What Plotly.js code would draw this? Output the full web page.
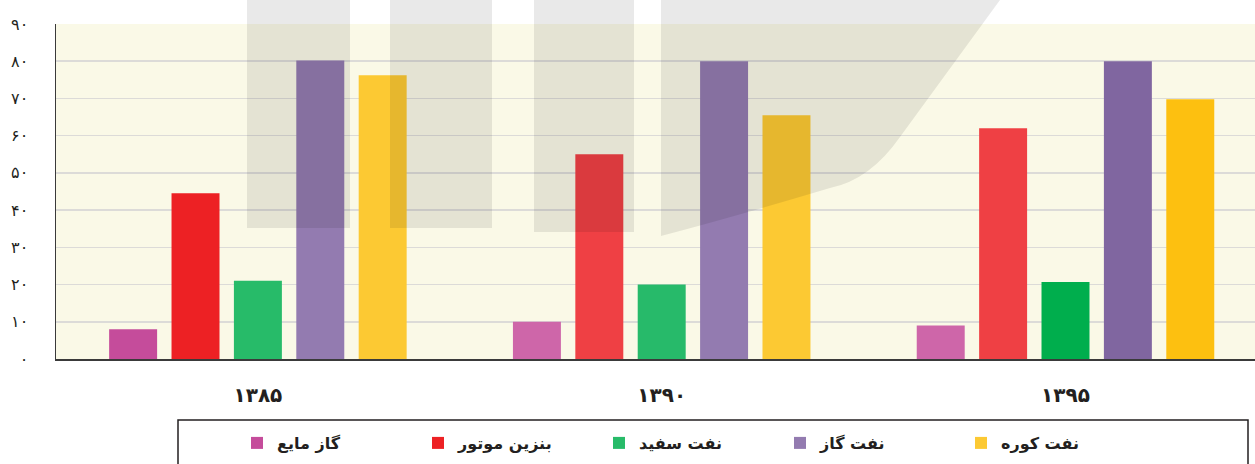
<!DOCTYPE html>
<html>
<head>
<meta charset="utf-8">
<script src="https://cdn.plot.ly/plotly-3.0.1.min.js"></script>
<style>html,body{margin:0;padding:0;background:#fff;overflow:hidden}#chart{width:1255px;height:464px}</style>
</head>
<body>
<div id="chart"></div>
<script>
// ---- data ----
const years = ['۱۳۸۵', '۱۳۹۰', '۱۳۹۵'];
const seriesNames = ['گاز مایع', 'بنزین موتور', 'نفت سفید', 'نفت گاز', 'نفت کوره'];
const lpg        = [8, 10, 9];
const gasoline   = [44.5, 55, 62];
const kerosene   = [21, 20, 20.7];
const gasoil     = [80.2, 80, 80];
const fuelOil    = [76.2, 65.5, 69.8];
const yTickVals  = [0, 10, 20, 30, 40, 50, 60, 70, 80, 90];
const yTickText  = ['۰', '۱۰', '۲۰', '۳۰', '۴۰', '۵۰', '۶۰', '۷۰', '۸۰', '۹۰'];

// ---- styles ----
const seriesColors = [
  ['#C54C9B', '#CE66A9', '#CE66A9'],
  ['#ED2124', '#EF4044', '#EF4044'],
  ['#27BB69', '#27BA6A', '#00AE4D'],
  ['#937BB0', '#937BB0', '#8066A0'],
  ['#FCC933', '#FCC933', '#FDC010']
];
const seriesValues = [lpg, gasoline, kerosene, gasoil, fuelOil];
const FONT = '"DejaVu Sans", "Noto Sans", sans-serif';

const W = 1255, H = 464, ML = 56, MR = 0, MT = 24, MB = 105;
const PW = W - ML - MR, PH = H - MT - MB;
const px = x => (x - ML) / PW;
const py = y => (H - MB - y) / PH;

const traces = seriesNames.map((n, i) => ({
  type: 'bar',
  name: n,
  x: years,
  y: seriesValues[i],
  marker: {color: seriesColors[i], line: {width: 0}},
  hoverinfo: 'x+y+name'
}));

// watermark-like translucent blocks (decoration)
const wm = 'rgba(0,0,0,0.085)';
const shapes = [
  {type: 'rect', xref: 'paper', yref: 'paper', x0: px(247), x1: px(350), y0: py(228), y1: py(0), fillcolor: wm, line: {width: 0}, layer: 'above'},
  {type: 'rect', xref: 'paper', yref: 'paper', x0: px(390), x1: px(492), y0: py(228), y1: py(0), fillcolor: wm, line: {width: 0}, layer: 'above'},
  {type: 'rect', xref: 'paper', yref: 'paper', x0: px(534), x1: px(634), y0: py(232), y1: py(0), fillcolor: wm, line: {width: 0}, layer: 'above'},
  // legend box
  {type: 'rect', xref: 'paper', yref: 'paper', x0: px(178), x1: px(1248), y0: py(470), y1: py(420), fillcolor: 'rgba(0,0,0,0)', line: {color: '#231F20', width: 1.5}, layer: 'above'}
];
(function(){
  const d = 'M' + px(661) + ',' + py(0) + ' L' + px(1000) + ',' + py(0) + ' L' + px(900) + ',' + py(137) +
          ' Q' + px(870) + ',' + py(180) + ' ' + px(830) + ',' + py(188) +
          ' Q' + px(740) + ',' + py(215) + ' ' + px(661) + ',' + py(236) + ' Z';
  shapes.push({type: 'path', xref: 'paper', yref: 'paper', path: d, fillcolor: wm, line: {width: 0}, layer: 'above'});
})();

const layout = {
  width: W, height: H,
  margin: {l: ML, r: MR, t: MT, b: MB, pad: 0, autoexpand: false},
  paper_bgcolor: '#FFFFFF',
  plot_bgcolor: '#FAF9E7',
  barmode: 'group',
  bargap: 0.2275,
  bargroupgap: 0.231,
  font: {family: FONT, color: '#231F20'},
  showlegend: true,
  legend: {
    orientation: 'h',
    xref: 'container', yref: 'container',
    x: 237 / W, xanchor: 'left',
    y: (H - 426) / H, yanchor: 'top',
    entrywidth: 136, entrywidthmode: 'pixels',
    font: {family: FONT, size: 16, color: '#231F20', weight: 'bold'},
    bgcolor: 'rgba(0,0,0,0)',
    borderwidth: 0,
    traceorder: 'normal'
  },
  xaxis: {
    type: 'category',
    range: [-0.5, -0.5 + PW / 403.8],
    showgrid: false,
    zeroline: false,
    showline: true, linecolor: '#3A3A3A', linewidth: 2,
    ticks: '',
    ticklabelstandoff: 17,
    tickfont: {family: FONT, size: 20, color: '#231F20', weight: 'bold'},
    automargin: false,
    fixedrange: true
  },
  yaxis: {
    range: [0, 90],
    tickvals: yTickVals,
    ticktext: yTickText,
    showgrid: true, gridcolor: '#DCDBD8', gridwidth: 1.5,
    zeroline: false,
    showline: true, linecolor: '#3A3A3A', linewidth: 1.5,
    ticks: '',
    ticklabelstandoff: 23,
    tickfont: {family: FONT, size: 16, color: '#231F20'},
    automargin: false,
    fixedrange: true
  },
  shapes: shapes
};

Plotly.newPlot('chart', traces, layout, {displayModeBar: false, staticPlot: true});
</script>
</body>
</html>
